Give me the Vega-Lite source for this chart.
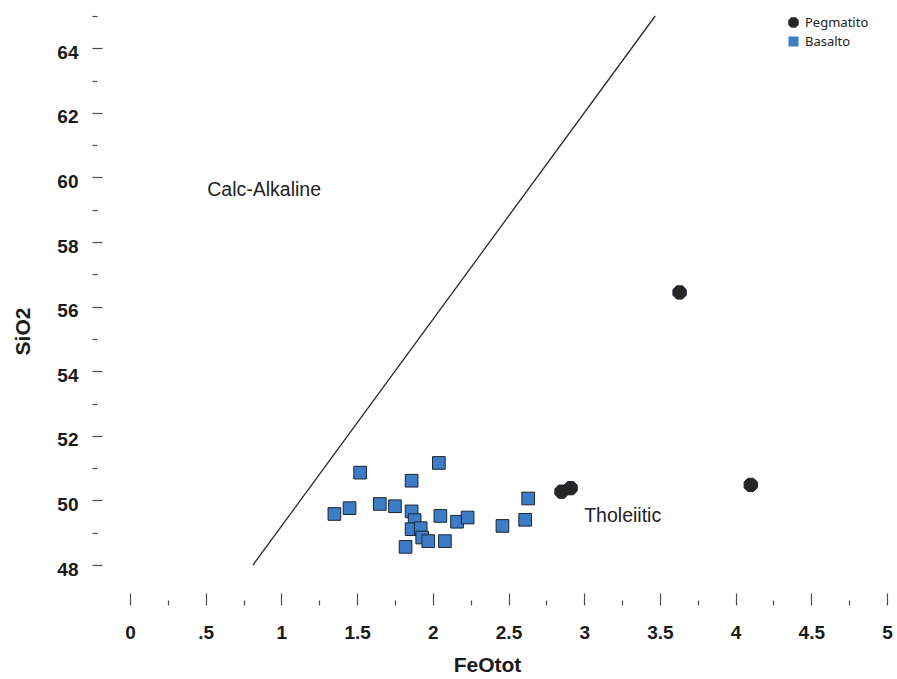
{
  "$schema": "https://vega.github.io/schema/vega-lite/v6.json",
  "autosize": {"type": "none"},
  "width": 757,
  "height": 549,
  "padding": {"left": 130, "top": 16, "right": 10, "bottom": 114},
  "background": "white",
  "config": {
    "view": {"stroke": null},
    "axis": {
      "domain": false,
      "grid": false,
      "tickColor": "#4a4a4a",
      "tickWidth": 1.2,
      "labelFont": "Liberation Sans",
      "labelFontWeight": "bold",
      "labelFontSize": 19,
      "labelColor": "#1a1a1a",
      "labelOverlap": false,
      "titleFont": "Liberation Sans",
      "titleFontWeight": "bold",
      "titleFontSize": 21,
      "titleColor": "#1a1a1a"
    }
  },
  "datasets": {
    "divide": [
      {"FeOtot": 0.8125, "SiO2": 48},
      {"FeOtot": 3.469, "SiO2": 65}
    ],
    "samples": [
      {"rock": "Basalto", "FeOtot": 1.35, "SiO2": 49.58},
      {"rock": "Basalto", "FeOtot": 1.45, "SiO2": 49.76},
      {"rock": "Basalto", "FeOtot": 1.52, "SiO2": 50.86},
      {"rock": "Basalto", "FeOtot": 1.65, "SiO2": 49.89},
      {"rock": "Basalto", "FeOtot": 1.75, "SiO2": 49.82},
      {"rock": "Basalto", "FeOtot": 1.86, "SiO2": 50.61},
      {"rock": "Basalto", "FeOtot": 2.04, "SiO2": 51.16},
      {"rock": "Basalto", "FeOtot": 1.86, "SiO2": 49.66},
      {"rock": "Basalto", "FeOtot": 1.88, "SiO2": 49.39},
      {"rock": "Basalto", "FeOtot": 1.86, "SiO2": 49.11},
      {"rock": "Basalto", "FeOtot": 1.92, "SiO2": 49.14},
      {"rock": "Basalto", "FeOtot": 1.93, "SiO2": 48.85},
      {"rock": "Basalto", "FeOtot": 1.97, "SiO2": 48.74},
      {"rock": "Basalto", "FeOtot": 1.82, "SiO2": 48.56},
      {"rock": "Basalto", "FeOtot": 2.08, "SiO2": 48.74},
      {"rock": "Basalto", "FeOtot": 2.05, "SiO2": 49.52},
      {"rock": "Basalto", "FeOtot": 2.16, "SiO2": 49.34},
      {"rock": "Basalto", "FeOtot": 2.23, "SiO2": 49.47},
      {"rock": "Basalto", "FeOtot": 2.46, "SiO2": 49.21},
      {"rock": "Basalto", "FeOtot": 2.61, "SiO2": 49.40},
      {"rock": "Basalto", "FeOtot": 2.63, "SiO2": 50.06},
      {"rock": "Pegmatito", "FeOtot": 3.63, "SiO2": 56.44},
      {"rock": "Pegmatito", "FeOtot": 4.10, "SiO2": 50.48},
      {"rock": "Pegmatito", "FeOtot": 2.85, "SiO2": 50.27},
      {"rock": "Pegmatito", "FeOtot": 2.91, "SiO2": 50.38}
    ],
    "fields": [
      {"FeOtot": 0.51, "SiO2": 59.42, "label": "Calc-Alkaline"},
      {"FeOtot": 3.0, "SiO2": 49.33, "label": "Tholeiitic"}
    ]
  },
  "encoding": {
    "x": {
      "field": "FeOtot",
      "type": "quantitative",
      "scale": {"domain": [0, 5], "nice": false, "zero": false},
      "axis": {
        "title": "FeOtot",
        "orient": "bottom",
        "offset": 40,
        "values": [0, 0.25, 0.5, 0.75, 1, 1.25, 1.5, 1.75, 2, 2.25, 2.5, 2.75, 3, 3.25, 3.5, 3.75, 4, 4.25, 4.5, 4.75, 5],
        "tickSize": {"condition": {"test": "datum.value % 0.5 !== 0", "value": -5}, "value": -12},
        "labelExpr": "datum.value % 0.5 !== 0 ? '' : (datum.value === 0.5 ? '.5' : format(datum.value, '~g'))",
        "labelFlush": false,
        "labelPadding": 30,
        "titleX": 357,
        "titleY": 60,
        "titleAlign": "center",
        "titleBaseline": "middle"
      }
    },
    "y": {
      "field": "SiO2",
      "type": "quantitative",
      "scale": {"domain": [48, 65], "nice": false, "zero": false},
      "axis": {
        "title": "SiO2",
        "orient": "left",
        "offset": 38,
        "values": [48, 49, 50, 51, 52, 53, 54, 55, 56, 57, 58, 59, 60, 61, 62, 63, 64, 65],
        "tickSize": {"condition": {"test": "datum.value % 2 !== 0", "value": -5}, "value": -10},
        "labelExpr": "datum.value % 2 !== 0 ? '' : datum.label",
        "labelFlush": false,
        "labelPadding": 24,
        "labelOffset": 4,
        "titleAngle": -90,
        "titleX": -69,
        "titleY": 315,
        "titleAlign": "center",
        "titleBaseline": "middle"
      }
    }
  },
  "layer": [
    {
      "data": {"name": "divide"},
      "mark": {"type": "line", "color": "#2a2a2a", "strokeWidth": 1.3}
    },
    {
      "data": {"name": "samples"},
      "mark": {"type": "point", "filled": true, "opacity": 1, "size": 160, "stroke": "#1b2530", "strokeWidth": 1},
      "encoding": {
        "color": {
          "field": "rock",
          "type": "nominal",
          "scale": {"domain": ["Pegmatito", "Basalto"], "range": ["#262626", "#3d7cc6"]},
          "legend": {
            "title": null,
            "orient": "none",
            "legendX": 657,
            "legendY": 0,
            "padding": 0,
            "symbolSize": 100,
            "symbolStrokeWidth": 0,
            "labelFont": "Noto Sans",
            "labelFontSize": 13,
            "labelColor": "#222222",
            "labelOffset": 5,
            "rowPadding": 5
          }
        },
        "shape": {
          "field": "rock",
          "type": "nominal",
          "scale": {
            "domain": ["Pegmatito", "Basalto"],
            "range": ["M-0.45,-1.05L0.45,-1.05L1.05,-0.45L1.05,0.45L0.45,1.05L-0.45,1.05L-1.05,0.45L-1.05,-0.45Z", "square"]
          },
          "legend": {
            "title": null,
            "orient": "none",
            "legendX": 657,
            "legendY": 0,
            "padding": 0,
            "symbolSize": 100,
            "symbolStrokeWidth": 0,
            "labelFont": "Noto Sans",
            "labelFontSize": 13,
            "labelColor": "#222222",
            "labelOffset": 5,
            "rowPadding": 5
          }
        }
      }
    },
    {
      "data": {"name": "fields"},
      "mark": {"type": "text", "align": "left", "baseline": "alphabetic", "font": "Liberation Sans", "fontSize": 19.5, "color": "#222222"},
      "encoding": {"text": {"field": "label", "type": "nominal"}}
    }
  ]
}
